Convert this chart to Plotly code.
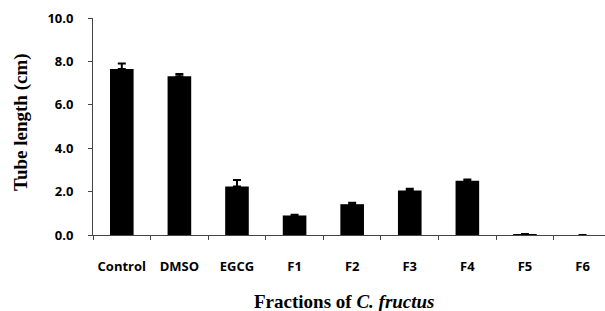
import plotly.graph_objects as go

categories = ["Control", "DMSO", "EGCG", "F1", "F2", "F3", "F4", "F5", "F6"]
tube_length = [7.65, 7.32, 2.23, 0.9, 1.42, 2.05, 2.5, 0.03, 0.0]
errors = [0.25, 0.1, 0.3, 0.03, 0.07, 0.08, 0.06, 0.02, 0.0]
y_ticks = [0, 2, 4, 6, 8, 10]
y_tick_labels = ["0.0", "2.0", "4.0", "6.0", "8.0", "10.0"]

fig = go.Figure(go.Bar(
    x=categories, y=tube_length,
    marker=dict(color="black", line=dict(width=0)),
    width=0.41,
    error_y=dict(type="data", array=errors, arrayminus=[0]*len(errors),
                 symmetric=False, color="black", thickness=2, width=4),
))

fig.update_layout(
    width=605, height=311,
    margin=dict(l=93, r=0, t=18, b=76, autoexpand=False),
    plot_bgcolor="white", paper_bgcolor="white",
    showlegend=False,
    xaxis=dict(
        range=[-0.5, 8.39], automargin=False,
        showline=True, linecolor="#444", linewidth=1,
        ticks="outside", tickson="boundaries", ticklen=4, tickcolor="#444",
        ticklabelstandoff=19,
        tickfont=dict(family="Open Sans", size=13, color="black", weight="bold"),
    ),
    yaxis=dict(
        range=[0, 10], tickvals=y_ticks, ticktext=y_tick_labels, automargin=False,
        showline=True, linecolor="#444", linewidth=1,
        ticks="outside", ticklen=4, tickcolor="#444", showgrid=False,
        zeroline=False, ticklabelstandoff=12,
        tickfont=dict(family="Open Sans", size=13, color="black", weight="bold"),
    ),
    annotations=[
        dict(text="Fractions of <i>C. fructus</i>", xref="paper", yref="paper",
             x=(344 - 93) / 512, y=-(301 - 235) / 217, xanchor="center", yanchor="middle",
             showarrow=False,
             font=dict(family="Liberation Serif", size=19, color="black", weight="bold")),
        dict(text="Tube length (cm)", xref="paper", yref="paper", textangle=-90,
             x=-(93 - 21) / 512, y=(235 - 122) / 217, xanchor="center", yanchor="middle",
             showarrow=False,
             font=dict(family="Liberation Serif", size=19, color="black", weight="bold")),
    ],
)

fig.write_html("out.html", config={"displayModeBar": False},
               post_script="document.body.style.margin='0';document.body.style.overflow='hidden';")
